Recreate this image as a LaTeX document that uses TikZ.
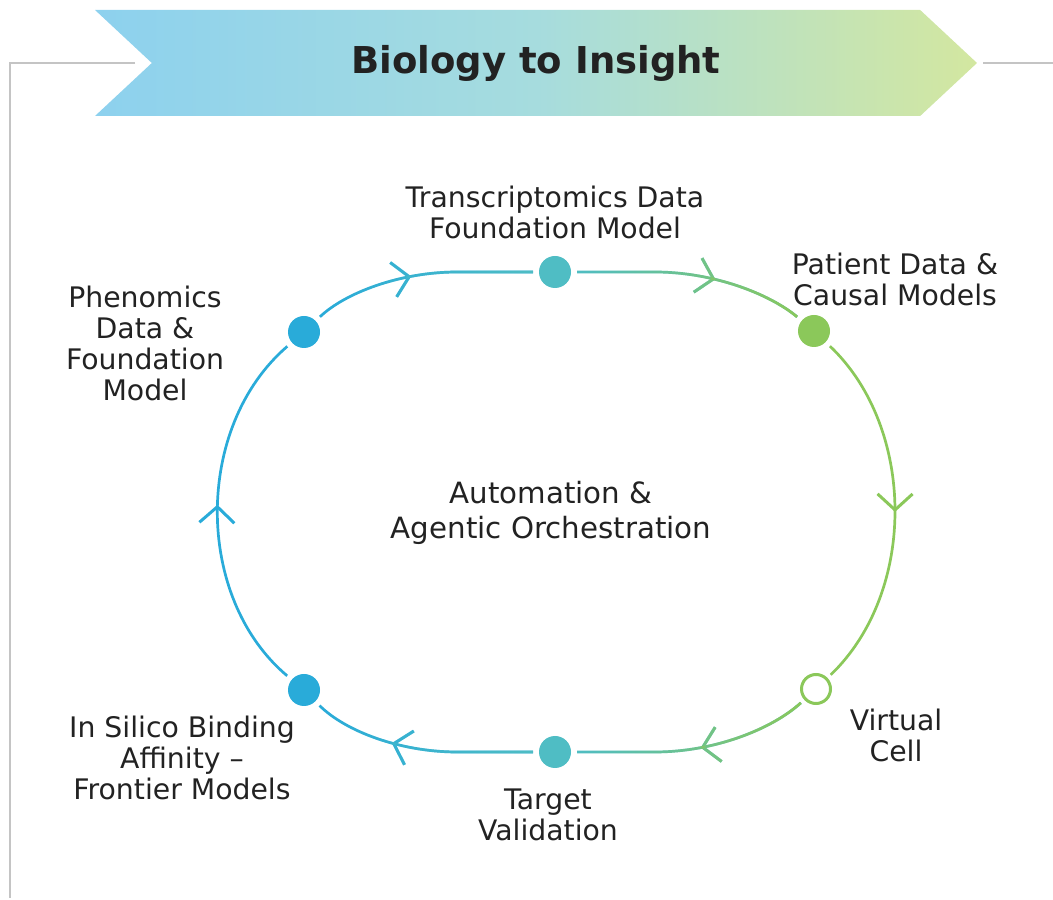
\documentclass[tikz,border=0pt]{standalone}
\usepackage{fontspec}
\setmainfont{DejaVu Sans}
\usetikzlibrary{arrows.meta,decorations.markings,fadings,shapes.symbols}
\definecolor{cblue}{HTML}{29ABD9}
\definecolor{cteal}{HTML}{4FBDC4}
\definecolor{cgreen}{HTML}{8BC85A}
\definecolor{ctext}{HTML}{222222}
\definecolor{cgray}{HTML}{C4C4C4}
\definecolor{bannerL}{HTML}{8DD1EE}
\definecolor{bannerM}{HTML}{A6DCDE}
\definecolor{bannerR}{HTML}{D3E7A0}
\tikzfading[name=fadeinright, left color=transparent!100, right color=transparent!0]
\tikzset{
  dot/.style={circle, minimum size=32pt, inner sep=0pt, outer sep=6pt},
  loopline/.style={line width=2.7pt},
  lbl/.style={text=ctext, font=\fontsize{28.3}{31}\selectfont, align=center},
  midarrow/.style={postaction={decorate}, decoration={markings,
     mark=at position #1 with {\arrow{Straight Barb[length=16pt,width=35pt,line width=3pt]}}}},
  grayline/.style={cgray, line width=2pt},
}
\begin{document}
\begin{tikzpicture}[x=1pt,y=1pt]
\useasboundingbox (0,0) rectangle (1053,900);
% banner
\node[signal, signal from=west, signal to=east, signal pointer angle=86,
      minimum width=882pt, minimum height=106pt, inner sep=0pt,
      left color=bannerL, right color=bannerR, middle color=bannerM,
      text=ctext, font=\fontsize{37}{42}\selectfont\bfseries] (banner) at (536,837) {Biology to Insight};
\coordinate (g1) at (135,837);
\coordinate (g2) at (10,837);
\coordinate (g3) at (10,2);
\coordinate (g4) at (983,837);
\coordinate (g5) at (1053,837);
\draw[grayline] (g1) -- (g2) -- (g3);
\draw[grayline] (g4) -- (g5);
% nodes
\node[dot, fill=cblue] (n1) at (304,568) {};
\node[dot, fill=cteal] (n2) at (555,628) {};
\node[dot, fill=cgreen] (n3) at (814,569) {};
\node[dot, draw=cgreen, line width=3pt, fill=white, minimum size=29pt] (n4) at (816,211) {};
\node[dot, fill=cteal] (n5) at (555,148) {};
\node[dot, fill=cblue] (n6) at (304,210) {};
% connectors
\draw[loopline, cblue, midarrow=101pt] (n1) .. controls (345.1,607.1) and (400.1,628) .. (457,628) -- (n2);
\draw[loopline, cteal, path fading=fadeinright, midarrow=101pt] (n1) .. controls (345.1,607.1) and (400.1,628) .. (457,628) -- (n2);
\draw[loopline, cteal, midarrow=139pt] (n2) -- (655,628) .. controls (713.3,628) and (769.6,606.1) .. (n3);
\draw[loopline, cgreen, path fading=fadeinright, midarrow=139pt] (n2) -- (655,628) .. controls (713.3,628) and (769.6,606.1) .. (n3);
\draw[loopline, cgreen, midarrow=183pt] (n3) .. controls (915.8,472.2) and (917.3,308.5) .. (n4);
\draw[loopline, cteal, midarrow=111pt] (n4) .. controls (772.3,171.1) and (714.8,148) .. (655,148) -- (n5);
\draw[loopline, cgreen, path fading=fadeinright, midarrow=111pt] (n4) .. controls (772.3,171.1) and (714.8,148) .. (655,148) -- (n5);
\draw[loopline, cblue, midarrow=142pt] (n5) -- (457,148) .. controls (400.1,148) and (345.1,168.9) .. (n6);
\draw[loopline, cteal, path fading=fadeinright, midarrow=142pt] (n5) -- (457,148) .. controls (400.1,148) and (345.1,168.9) .. (n6);
\draw[loopline, cblue, midarrow=191pt] (n6) .. controls (194,302.6) and (194,473.4) .. (n1);
% labels
\node[lbl] (t1) at (555,688) {Transcriptomics Data\\Foundation Model};
\node[lbl] (t2) at (895,621) {Patient Data \&\\Causal Models};
\node[lbl] (t3) at (145,557) {Phenomics\\Data \&\\Foundation\\Model};
\node[lbl, font=\fontsize{29.3}{35}\selectfont] (t4) at (551,387) {Automation \&\\Agentic Orchestration};
\node[lbl] (t5) at (896,165) {Virtual\\Cell};
\node[lbl] (t6) at (548,85) {Target\\Validation};
\node[lbl] (t7) at (182,142) {In Silico Binding\\Affinity –\\Frontier Models};
\end{tikzpicture}
\end{document}
